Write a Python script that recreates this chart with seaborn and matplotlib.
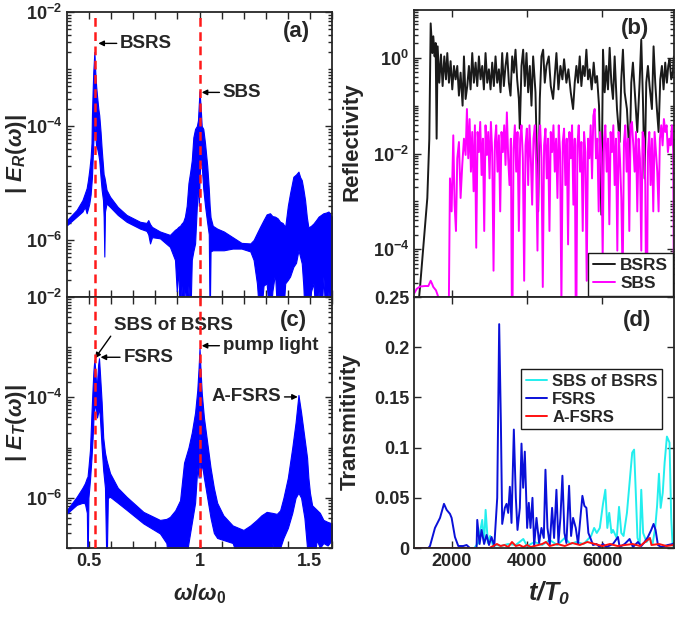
import numpy as np
import pandas as pd
import matplotlib
matplotlib.use('Agg')
import matplotlib.pyplot as plt
import seaborn as sns
from matplotlib.ticker import FixedLocator, LogLocator, FuncFormatter, NullFormatter

# ---------------- data ----------------
# (a) reflected spectrum |E_R(w)|: frequency, upper / lower envelope (log10)
w_a = [0.400, 0.444, 0.470, 0.481, 0.489, 0.495, 0.501, 0.507, 0.511, 0.513, 0.516, 0.519,
       0.524, 0.528, 0.532, 0.537, 0.542, 0.546, 0.552, 0.557, 0.563, 0.566, 0.569, 0.572,
       0.579, 0.595, 0.630, 0.670, 0.731, 0.760, 0.768, 0.776, 0.785, 0.821, 0.866, 0.889,
       0.897, 0.904, 0.912, 0.919, 0.926, 0.934, 0.942, 0.950, 0.958, 0.965, 0.972, 0.980,
       0.988, 0.993, 0.997, 1.000, 1.004, 1.010, 1.017, 1.025, 1.035, 1.042, 1.046, 1.050,
       1.060, 1.080, 1.110, 1.150, 1.190, 1.230, 1.245, 1.260, 1.274, 1.290, 1.304, 1.319,
       1.330, 1.342, 1.354, 1.365, 1.376, 1.388, 1.400, 1.410, 1.425, 1.437, 1.448, 1.456,
       1.463, 1.470, 1.478, 1.486, 1.493, 1.505, 1.516, 1.528, 1.539, 1.550, 1.561, 1.572,
       1.584, 1.592, 1.600]
hi_a = [-5.65, -5.47, -5.30, -5.18, -5.09, -4.95, -4.77, -4.55, -4.30, -3.81, -3.40, -3.05,
        -2.70, -3.05, -3.30, -3.51, -3.70, -3.81, -4.10, -4.40, -4.70, -4.85, -4.89, -4.95,
        -5.12, -5.24, -5.42, -5.56, -5.68, -5.70, -5.65, -5.72, -5.77, -5.85, -5.91, -5.82,
        -5.80, -5.77, -5.75, -5.71, -5.68, -5.59, -5.40, -5.00, -4.80, -4.60, -4.20, -4.05,
        -4.00, -3.90, -3.60, -3.39, -3.60, -4.00, -4.05, -4.30, -4.70, -5.10, -5.40, -5.60,
        -5.75, -5.80, -5.85, -5.95, -6.05, -6.06, -6.00, -5.88, -5.77, -5.65, -5.55, -5.53,
        -5.58, -5.59, -5.62, -5.68, -5.70, -5.77, -5.40, -5.18, -4.89, -4.85, -4.80, -4.90,
        -4.95, -5.10, -5.30, -5.60, -5.78, -5.75, -5.71, -5.65, -5.59, -5.56, -5.53, -5.52,
        -5.50, -5.55, -5.59]
lo_a = [-5.74, -5.59, -5.50, -5.42, -5.53, -5.45, -5.36, -5.20, -5.00, -4.90, -4.60, -4.30,
        -3.95, -4.15, -4.36, -4.40, -4.50, -4.60, -4.90, -5.12, -5.30, -5.60, -6.29, -5.50,
        -5.36, -5.42, -5.56, -5.68, -5.80, -5.84, -5.90, -6.06, -5.95, -5.97, -6.12, -6.35,
        -6.90, -6.50, -7.50, -6.80, -7.50, -6.64, -7.50, -6.80, -7.50, -6.35, -6.20, -6.06,
        -5.40, -5.00, -5.40, -4.95, -4.60, -4.70, -5.10, -5.40, -5.70, -5.90, -7.50, -6.20,
        -6.18, -6.18, -6.18, -6.15, -6.15, -6.20, -6.35, -6.76, -7.50, -6.80, -6.76, -7.50,
        -6.90, -6.58, -7.50, -6.90, -7.50, -6.76, -6.70, -6.64, -6.47, -6.40, -6.18, -6.30,
        -6.41, -6.80, -7.50, -6.90, -7.50, -6.90, -6.76, -7.50, -6.90, -7.50, -6.64, -7.50,
        -6.90, -7.50, -6.76]

# (c) transmitted spectrum |E_T(w)|
w_c = [0.400, 0.444, 0.470, 0.481, 0.490, 0.493, 0.497, 0.504, 0.511, 0.516, 0.520, 0.524,
       0.528, 0.532, 0.536, 0.541, 0.545, 0.549, 0.553, 0.557, 0.564, 0.572, 0.579, 0.585,
       0.595, 0.630, 0.670, 0.746, 0.821, 0.850, 0.866, 0.890, 0.912, 0.930, 0.950, 0.965,
       0.980, 0.990, 0.996, 1.000, 1.004, 1.010, 1.020, 1.035, 1.050, 1.065, 1.080, 1.108,
       1.150, 1.199, 1.230, 1.259, 1.280, 1.304, 1.330, 1.350, 1.365, 1.380, 1.400, 1.420,
       1.435, 1.448, 1.460, 1.475, 1.487, 1.493, 1.500, 1.510, 1.531, 1.545, 1.561, 1.580,
       1.600]
hi_c = [-6.24, -5.98, -5.80, -5.71, -5.60, -5.58, -5.40, -5.05, -4.30, -3.80, -3.45, -3.25,
        -3.45, -3.75, -3.70, -3.35, -3.22, -3.50, -3.80, -4.10, -4.80, -5.10, -5.25, -5.35,
        -5.51, -5.80, -5.98, -6.28, -6.44, -6.42, -6.38, -6.25, -6.05, -5.30, -5.00, -4.70,
        -4.30, -3.85, -3.40, -3.02, -3.40, -3.90, -4.40, -4.90, -5.40, -5.80, -6.10, -6.35,
        -6.55, -6.64, -6.55, -6.44, -6.35, -6.28, -6.30, -6.32, -6.25, -6.00, -5.60, -5.00,
        -4.50, -3.95, -4.30, -4.80, -5.20, -5.60, -5.90, -6.15, -6.24, -6.30, -6.44, -6.48,
        -6.51]
lo_c = [-6.31, -6.14, -6.10, -6.11, -6.30, -7.50, -6.00, -5.65, -5.20, -4.80, -4.40, -4.10,
        -4.20, -4.30, -4.40, -4.30, -4.20, -4.40, -4.70, -5.00, -5.45, -5.80, -7.50, -6.00,
        -5.98, -6.10, -6.24, -6.51, -6.71, -6.90, -7.50, -7.50, -7.50, -7.50, -6.90, -6.50,
        -6.10, -5.40, -5.60, -4.70, -5.60, -5.30, -5.60, -6.00, -6.40, -6.70, -6.80, -6.84,
        -6.90, -7.50, -7.20, -7.50, -7.00, -7.50, -6.90, -7.50, -7.00, -6.80, -6.60, -6.30,
        -6.00, -5.90, -6.00, -6.40, -7.00, -7.50, -7.50, -7.50, -6.84, -7.00, -6.90, -6.95,
        -6.84]

# (b) reflectivity vs time (log10)
t_bsrs = [1000, 1100, 1160, 1353, 1406, 1442, 1486, 1512, 1547, 1574, 1600, 1627, 1671, 1715,
          1759, 1804, 1848, 1883, 1927, 1971, 2015, 2060, 2104, 2148, 2192, 2236, 2289, 2325,
          2369, 2413, 2457, 2501, 2545, 2589, 2634, 2678, 2722, 2766, 2810, 2854, 2898, 2943,
          2987, 3031, 3075, 3119, 3163, 3208, 3252, 3296, 3340, 3384, 3428, 3472, 3517, 3561,
          3605, 3649, 3693, 3737, 3782, 3808, 3852, 3896, 3940, 3985, 4029, 4073, 4117, 4161,
          4223, 4294, 4338, 4382, 4426, 4470, 4514, 4576, 4629, 4691, 4735, 4779, 4832, 4885,
          4938, 4982, 5044, 5097, 5159, 5221, 5265, 5309, 5353, 5397, 5441, 5486, 5530, 5574,
          5618, 5662, 5715, 5768, 5812, 5856, 5909, 5971, 6015, 6059, 6103, 6147, 6191, 6236,
          6280, 6324, 6386, 6456, 6500, 6544, 6589, 6650, 6721, 6765, 6809, 6871, 6924, 6986,
          7030, 7074, 7119, 7163, 7207, 7251, 7313, 7357, 7401, 7445, 7490, 7534, 7578, 7622,
          7666, 7710, 7746, 7781, 7825, 7869, 7896]
r_bsrs = [-6.0, -5.3, -4.79, -2.93, -1.69, 0.72, 0.10, 0.45, 0.03, 0.31, -1.69, 0.24, -0.52,
          0.07, -0.59, 0.03, -0.45, 0.10, -0.52, -0.07, -0.66, -0.17, -0.45, -0.17, -0.79,
          -0.31, -1.00, 0.03, -0.86, -0.59, -0.17, -0.66, 0.10, -0.52, -0.10, -0.59, 0.03,
          -0.45, -0.17, -0.66, 0.10, -0.52, -0.24, -0.66, -0.10, -0.59, 0.03, -0.52, -0.24,
          -0.72, 0.10, -0.59, -0.17, 0.10, -0.52, -0.79, 0.03, -0.31, 0.17, -0.45, -0.86,
          -1.48, -0.17, 0.17, -0.59, 0.10, -0.72, -0.17, -1.00, 0.03, -0.72, -3.21, -0.86,
          0.03, 0.17, -0.52, -0.17, 0.03, -0.59, -0.86, -0.38, 0.10, -0.66, -0.17, -0.45,
          -0.03, -0.52, -0.24, -0.72, -1.07, -0.52, -0.17, -0.52, 0.03, -0.59, -0.17, -0.38,
          0.17, -0.45, -0.24, -0.66, -0.10, -0.52, -0.38, -1.00, -3.28, 0.17, -0.72, -0.17,
          -0.66, 0.21, -0.52, -0.86, 0.03, -1.07, -1.76, -0.45, 0.17, -0.72, -1.07, -2.10,
          -0.52, -0.10, -0.86, -1.55, -0.52, 0.38, -0.86, -2.52, -0.52, -0.17, -0.59, -1.07,
          0.24, -0.52, -1.07, -1.55, -0.45, -0.17, -0.66, -0.10, -0.52, -0.17, -0.03, -0.45,
          -0.31, 0.03]
t_sbs = [1000, 1071, 1159, 1291, 1380, 1442, 1477, 1512, 1583, 1645, 1689, 1909, 1954, 1998,
         2042, 2077, 2113, 2148, 2192, 2236, 2280, 2325, 2369, 2404, 2439, 2475, 2510, 2545,
         2581, 2616, 2651, 2687, 2722, 2757, 2793, 2828, 2863, 2898, 2934, 2969, 3004, 3040,
         3075, 3110, 3146, 3181, 3216, 3252, 3287, 3322, 3358, 3393, 3428, 3464, 3499, 3534,
         3570, 3605, 3640, 3676, 3711, 3746, 3782, 3817, 3852, 3888, 3923, 3958, 3994, 4029,
         4064, 4100, 4135, 4170, 4206, 4241, 4276, 4311, 4347, 4382, 4417, 4452, 4488, 4523,
         4558, 4594, 4629, 4664, 4700, 4735, 4770, 4806, 4841, 4876, 4911, 4947, 4982, 5017,
         5053, 5088, 5123, 5159, 5194, 5229, 5265, 5300, 5335, 5371, 5406, 5441, 5477, 5512,
         5547, 5582, 5618, 5653, 5688, 5724, 5759, 5794, 5830, 5865, 5900, 5936, 5971, 6006,
         6042, 6077, 6112, 6148, 6183, 6218, 6253, 6289, 6324, 6359, 6395, 6430, 6465, 6501,
         6536, 6571, 6607, 6642, 6677, 6713, 6748, 6783, 6819, 6854, 6889, 6925, 6960, 6995,
         7031, 7066, 7101, 7137, 7172, 7207, 7243, 7278, 7313, 7349, 7384, 7419, 7455, 7490,
         7525, 7561, 7596, 7631, 7667, 7702, 7737, 7773, 7808, 7843, 7879, 7896]
r_sbs = [-4.93, -4.83, -4.78, -4.77, -4.77, -4.66, -4.72, -4.79, -4.86, -5.00, -6.5, -6.5,
         -2.52, -3.21, -1.62, -3.07, -3.62, -2.10, -1.76, -2.93, -2.24, -1.69, -2.03, -1.07,
         -2.10, -1.28, -2.38, -1.55, -2.79, -1.41, -3.97, -1.55, -1.97, -1.34, -2.45, -1.69,
         -3.62, -1.41, -2.03, -1.55, -2.52, -1.34, -1.97, -4.45, -1.76, -1.41, -2.38, -1.62,
         -3.21, -1.55, -1.97, -1.41, -2.24, -1.14, -2.10, -2.66, -1.69, -6.5, -1.90, -1.41,
         -2.38, -1.55, -3.62, -1.69, -1.41, -2.10, -4.66, -1.83, -1.48, -2.66, -1.41, -2.10,
         -3.07, -1.69, -1.41, -2.24, -4.03, -1.69, -1.41, -2.10, -4.79, -1.83, -1.48, -2.52,
         -1.69, -3.62, -1.55, -1.97, -1.41, -2.38, -1.69, -2.93, -1.41, -1.97, -5.14, -1.76,
         -1.48, -2.66, -1.69, -3.90, -1.55, -2.10, -1.41, -3.07, -1.69, -6.5, -1.83, -1.41,
         -2.38, -1.76, -3.62, -1.55, -1.97, -4.66, -1.69, -2.10, -1.41, -2.52, -1.21, -1.07,
         -2.10, -1.69, -3.21, -1.55, -1.97, -4.17, -1.69, -1.41, -2.38, -1.69, -3.48, -1.55,
         -1.97, -1.41, -2.66, -1.69, -4.03, -1.55, -2.10, -2.93, -4.66, -1.76, -1.41, -2.38,
         -1.69, -3.62, -1.41, -1.34, -1.83, -2.38, -1.55, -3.21, -1.69, -2.10, -4.03, -1.55,
         -1.69, -2.66, -6.5, -1.97, -1.55, -2.66, -1.69, -3.21, -1.55, -1.97, -2.38, -3.21,
         -1.69, -1.41, -1.83, -1.28, -1.55, -1.41, -1.97, -1.69, -1.83, -1.41, -1.97, -5.00]

# (d) transmitivity vs time
t_fsrs = [1000, 1380, 1424, 1556, 1690, 1795, 1866, 1954, 1998, 2086, 2175, 2307, 2395, 2483,
          2660, 2678, 2740, 2793, 2860, 2925, 2990, 3057, 3130, 3208, 3260, 3305, 3340, 3410,
          3455, 3499, 3543, 3587, 3649, 3702, 3746, 3808, 3852, 3896, 3940, 4002, 4046, 4091,
          4143, 4188, 4250, 4320, 4382, 4444, 4488, 4541, 4603, 4664, 4717, 4779, 4832, 4885,
          4938, 4991, 5044, 5115, 5168, 5221, 5292, 5353, 5415, 5468, 5521, 5574, 5627, 5680,
          5750, 5840, 5930, 6015, 6103, 6280, 6412, 6456, 6589, 6721, 6809, 6942, 7030, 7119,
          7207, 7295, 7357, 7410, 7472, 7560, 7737, 7869, 7896]
v_fsrs = [0.0, 0.0, 0.002, 0.020, 0.030, 0.044, 0.038, 0.034, 0.030, 0.011, 0.002, 0.002,
          0.003, 0.0, 0.0, 0.028, 0.004, 0.018, 0.004, 0.013, 0.003, 0.011, 0.002, 0.050,
          0.223, 0.125, 0.024, 0.040, 0.044, 0.035, 0.061, 0.025, 0.118, 0.050, 0.018, 0.040,
          0.104, 0.060, 0.096, 0.020, 0.045, 0.020, 0.050, 0.002, 0.030, 0.005, 0.020, 0.010,
          0.078, 0.020, 0.003, 0.040, 0.010, 0.058, 0.005, 0.030, 0.072, 0.015, 0.005, 0.062,
          0.012, 0.030, 0.020, 0.004, 0.030, 0.052, 0.042, 0.040, 0.015, 0.010, 0.003, 0.004,
          0.001, 0.004, 0.001, 0.004, 0.011, 0.001, 0.004, 0.009, 0.001, 0.006, 0.002, 0.006,
          0.011, 0.018, 0.024, 0.018, 0.003, 0.001, 0.003, 0.004, 0.005]
t_sobs = [1000, 2600, 2700, 2810, 2860, 2900, 2960, 3020, 3100, 3200, 3300, 3500, 3700, 3900,
          4000, 4200, 4400, 4600, 4800, 5000, 5150, 5300, 5500, 5700, 5780, 5850, 5930, 6015,
          6077, 6130, 6180, 6240, 6280, 6380, 6440, 6500, 6560, 6650, 6720, 6790, 6840, 6880,
          6930, 6990, 7030, 7080, 7170, 7250, 7330, 7400, 7450, 7500, 7545, 7600, 7650, 7711,
          7780, 7825, 7860, 7896]
v_sobs = [0.0, 0.0, 0.005, 0.028, 0.005, 0.038, 0.005, 0.012, 0.002, 0.003, 0.002, 0.004,
          0.003, 0.009, 0.002, 0.006, 0.003, 0.008, 0.003, 0.010, 0.004, 0.006, 0.004, 0.012,
          0.020, 0.015, 0.020, 0.044, 0.058, 0.020, 0.035, 0.015, 0.018, 0.010, 0.041, 0.015,
          0.012, 0.035, 0.065, 0.095, 0.098, 0.060, 0.010, 0.004, 0.058, 0.015, 0.006, 0.010,
          0.004, 0.020, 0.042, 0.074, 0.040, 0.055, 0.085, 0.111, 0.105, 0.030, 0.004, 0.0]
t_afsrs = [1000, 3000, 3100, 3200, 3300, 3400, 3500, 3600, 3700, 3800, 3900, 4000, 4100, 4200,
           4400, 4500, 4600, 4800, 5000, 5200, 5400, 5600, 5800, 6000, 6200, 6400, 6600, 6800,
           7000, 7200, 7260, 7300, 7500, 7700, 7896]
v_afsrs = [0.0, 0.0, 0.002, 0.004, 0.002, 0.003, 0.001, 0.006, 0.002, 0.003, 0.001, 0.003,
           0.001, 0.002, 0.004, 0.006, 0.002, 0.004, 0.002, 0.005, 0.003, 0.006, 0.004, 0.002,
           0.004, 0.002, 0.003, 0.004, 0.002, 0.008, 0.010, 0.003, 0.004, 0.002, 0.003]

# ---------------- style ----------------
sns.set_theme(style='ticks')
plt.rcParams['font.family'] = ['Liberation Sans', 'DejaVu Sans']
plt.rcParams['font.weight'] = 'bold'
plt.rcParams['mathtext.fontset'] = 'custom'
plt.rcParams['mathtext.rm'] = 'Liberation Sans'
plt.rcParams['mathtext.it'] = 'Liberation Sans:italic'
plt.rcParams['mathtext.bf'] = 'Liberation Sans:bold'
plt.rcParams['mathtext.bfit'] = 'Liberation Sans:bold:italic'

grey = '#262626'
TICK = 13
LAB = 16


def log_fmt(v, pos):
    return r'$\mathbf{10^{%d}}$' % round(np.log10(v))


def style_axis(ax):
    for s in ax.spines.values():
        s.set_color(grey)
        s.set_linewidth(1.3)
    ax.tick_params(which='both', direction='in', top=True, right=True, colors=grey,
                   labelsize=TICK, width=1.0)
    ax.tick_params(which='major', length=5)
    ax.tick_params(which='minor', length=2.8)
    for lbl in ax.get_xticklabels() + ax.get_yticklabels():
        lbl.set_fontweight('bold')


def style_legend(leg):
    leg.get_frame().set_edgecolor('#1a1a1a')
    leg.get_frame().set_linewidth(1.0)
    for txt in leg.get_texts():
        txt.set_fontweight('bold')


fig = plt.figure(figsize=(6.85, 6.17), dpi=100)
ax_a = fig.add_axes([0.0978, 0.5186, 0.3869, 0.4619])
ax_c = fig.add_axes([0.0978, 0.1118, 0.3869, 0.4068])
ax_b = fig.add_axes([0.6044, 0.5186, 0.3796, 0.4652])
ax_d = fig.add_axes([0.6044, 0.1118, 0.3796, 0.4068])

# ---------------- spectra (a), (c) ----------------
xt = np.round(np.arange(0.5, 1.61, 0.1), 2)
xt_lab = {0.5: '0.5', 1.0: '1', 1.5: '1.5'}
for ax, w, hi, lo in [(ax_a, w_a, hi_a, lo_a), (ax_c, w_c, hi_c, lo_c)]:
    w = np.array(w)
    ax.fill_between(w, 10.0 ** np.array(lo), 10.0 ** np.array(hi), color='#0000ff',
                    lw=0.8, edgecolor='#0000ff')
    for xv in (0.526, 1.0):
        ax.axvline(xv, color='#ff1a1a', lw=1.8, ls=(0, (3.5, 2.2)), zorder=5)
    ax.set_yscale('log')
    ax.set_xlim(0.4, 1.6)
    ax.set_ylim(1e-7, 1e-2)
    ax.yaxis.set_major_locator(FixedLocator([1e-6, 1e-4, 1e-2]))
    ax.yaxis.set_major_formatter(FuncFormatter(log_fmt))
    ax.yaxis.set_minor_locator(LogLocator(base=10, subs=np.arange(1, 10), numticks=20))
    ax.yaxis.set_minor_formatter(NullFormatter())
    ax.set_xticks(xt)
    ax.set_xticklabels([xt_lab.get(float(v), '') for v in xt])
    style_axis(ax)

ax_a.tick_params(axis='x', labelbottom=False)
ax_a.set_ylabel(r'$\mathbf{|}\ \mathbfit{E}_{\mathbfit{R}}(\omega)\mathbf{|}$', fontsize=LAB,
                color=grey)
ax_a.yaxis.set_label_coords(-0.145, 0.5)
ax_c.set_ylabel(r'$\mathbf{|}\ \mathbfit{E}_{\mathbfit{T}}(\omega)\mathbf{|}$', fontsize=LAB,
                color=grey)
ax_c.yaxis.set_label_coords(-0.145, 0.5)
ax_c.set_xlabel(r'$\omega/\omega_{\mathbf{0}}$', fontsize=LAB, color=grey)
ax_c.xaxis.set_label_coords(0.5, -0.135)

arrow = dict(arrowstyle='-|>', color='black', lw=1.0, mutation_scale=8, shrinkA=0, shrinkB=0)
afs = 13.5
ax_a.annotate('BSRS', xy=(0.542, 10 ** -2.55), xytext=(0.64, 10 ** -2.55), fontsize=afs,
              fontweight='bold', va='center', ha='left', arrowprops=arrow)
ax_a.annotate('SBS', xy=(1.01, 10 ** -3.41), xytext=(1.105, 10 ** -3.41), fontsize=afs,
              fontweight='bold', va='center', ha='left', arrowprops=arrow)
ax_a.text(0.864, 0.93, '(a)', transform=ax_a.transAxes, fontsize=16, fontweight='bold',
          ha='center', va='center')

ax_c.text(0.615, 10 ** -2.56, 'SBS of BSRS', fontsize=afs, fontweight='bold', va='center',
          ha='left')
ax_c.annotate('', xy=(0.527, 10 ** -3.22), xytext=(0.598, 10 ** -2.78), arrowprops=arrow)
ax_c.annotate('FSRS', xy=(0.552, 10 ** -3.2), xytext=(0.655, 10 ** -3.2), fontsize=afs,
              fontweight='bold', va='center', ha='left', arrowprops=arrow)
ax_c.annotate('pump light', xy=(1.01, 10 ** -2.97), xytext=(1.105, 10 ** -2.97), fontsize=afs,
              fontweight='bold', va='center', ha='left', arrowprops=arrow)
ax_c.annotate('A-FSRS', xy=(1.445, 10 ** -3.99), xytext=(1.37, 10 ** -3.99), fontsize=afs,
              fontweight='bold', va='center', ha='right', arrowprops=arrow)
ax_c.text(0.853, 0.908, '(c)', transform=ax_c.transAxes, fontsize=16, fontweight='bold',
          ha='center', va='center')

# ---------------- (b) reflectivity ----------------
df_b1 = pd.DataFrame({'t': t_bsrs, 'R': 10.0 ** np.array(r_bsrs)})
df_b2 = pd.DataFrame({'t': t_sbs, 'R': 10.0 ** np.array(r_sbs)})
sns.lineplot(data=df_b1, x='t', y='R', ax=ax_b, color='#1a1a1a', lw=1.4, label='BSRS',
             estimator=None, sort=False)
sns.lineplot(data=df_b2, x='t', y='R', ax=ax_b, color='#ff00ff', lw=1.4, label='SBS',
             estimator=None, sort=False)
ax_b.set_yscale('log')
ax_b.set_xlim(1000, 7900)
ax_b.set_ylim(1e-5, 10)
ax_b.yaxis.set_major_locator(FixedLocator([1e-4, 1e-2, 1e0]))
ax_b.yaxis.set_major_formatter(FuncFormatter(log_fmt))
ax_b.yaxis.set_minor_locator(LogLocator(base=10, subs=np.arange(1, 10), numticks=20))
ax_b.yaxis.set_minor_formatter(NullFormatter())
ax_b.set_xticks([2000, 4000, 6000])
ax_b.tick_params(axis='x', labelbottom=False)
ax_b.set_xlabel('')
ax_b.set_ylabel('Reflectivity', fontsize=LAB, fontweight='bold', color=grey)
ax_b.yaxis.set_label_coords(-0.2, 0.54)
style_axis(ax_b)
leg = ax_b.legend(loc='lower right', fontsize=12.5, handlelength=1.3, handletextpad=0.3,
                  borderpad=0.25, labelspacing=0.2, borderaxespad=0.08, fancybox=False,
                  framealpha=1)
style_legend(leg)
ax_b.text(0.85, 0.937, '(b)', transform=ax_b.transAxes, fontsize=16, fontweight='bold',
          ha='center', va='center')

# ---------------- (d) transmitivity ----------------
df_d1 = pd.DataFrame({'t': t_sobs, 'T': v_sobs})
df_d2 = pd.DataFrame({'t': t_fsrs, 'T': v_fsrs})
df_d3 = pd.DataFrame({'t': t_afsrs, 'T': v_afsrs})
sns.lineplot(data=df_d1, x='t', y='T', ax=ax_d, color='#22eeee', lw=1.4, label='SBS of BSRS',
             estimator=None, sort=False)
sns.lineplot(data=df_d2, x='t', y='T', ax=ax_d, color='#0a10d8', lw=1.4, label='FSRS',
             estimator=None, sort=False)
sns.lineplot(data=df_d3, x='t', y='T', ax=ax_d, color='#ff1010', lw=1.4, label='A-FSRS',
             estimator=None, sort=False)
ax_d.set_xlim(1000, 7900)
ax_d.set_ylim(0, 0.25)
ax_d.set_yticks([0, 0.05, 0.1, 0.15, 0.2, 0.25])
ax_d.set_yticklabels(['0', '0.05', '0.1', '0.15', '0.2', '0.25'])
ax_d.set_xticks([2000, 4000, 6000])
ax_d.set_xticklabels(['2000', '4000', '6000'])
ax_d.set_ylabel('Transmitivity', fontsize=LAB, fontweight='bold', color=grey)
ax_d.yaxis.set_label_coords(-0.203, 0.503)
ax_d.set_xlabel(r'$\mathbfit{t/T}_{\mathbfit{0}}$', fontsize=LAB + 2, color=grey)
ax_d.xaxis.set_label_coords(0.519, -0.125)
style_axis(ax_d)
ax_d.tick_params(which='minor', left=False, right=False, top=False, bottom=False)
leg = ax_d.legend(loc='upper right', bbox_to_anchor=(0.985, 0.745), fontsize=12,
                  handlelength=1.3, handletextpad=0.3, borderpad=0.25, labelspacing=0.2,
                  fancybox=False, framealpha=1)
style_legend(leg)
ax_d.text(0.858, 0.908, '(d)', transform=ax_d.transAxes, fontsize=16, fontweight='bold',
          ha='center', va='center')

fig.savefig('out.png', dpi=100)
